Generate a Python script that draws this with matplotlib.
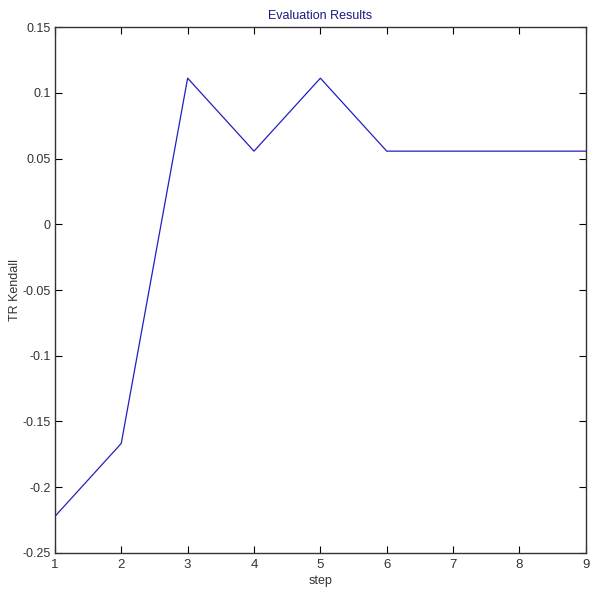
import matplotlib
matplotlib.use("Agg")
import matplotlib.pyplot as plt

steps = [1, 2, 3, 4, 5, 6, 7, 8, 9]
kendall = [-0.2222, -0.1667, 0.1111, 0.0556, 0.1111, 0.0556, 0.0556, 0.0556, 0.0556]
x_ticks = [1, 2, 3, 4, 5, 6, 7, 8, 9]
y_ticks = [-0.25, -0.2, -0.15, -0.1, -0.05, 0, 0.05, 0.1, 0.15]
y_labels = ["-0.25", "-0.2", "-0.15", "-0.1", "-0.05", "0", "0.05", "0.1", "0.15"]

font = ["Liberation Sans", "DejaVu Sans"]

fig = plt.figure(figsize=(5.9, 5.95), dpi=100)
ax = fig.add_axes([0.093, 0.0706, 0.9, 0.884])
ax.plot(steps, kendall, color="#2020c0", linewidth=0.9)
ax.set_xlim(1, 9)
ax.set_ylim(-0.25, 0.15)
ax.set_xticks(x_ticks)
ax.set_xticklabels([str(t) for t in x_ticks], family=font, fontsize=9.5, color="#333333")
ax.set_yticks(y_ticks)
ax.set_yticklabels(y_labels, family=font, fontsize=9, color="#333333")
ax.tick_params(direction="in", top=True, right=True, length=5, width=0.8, pad=3)
ax.tick_params(axis="x", pad=4)
for s in ax.spines.values():
    s.set_linewidth(1.0)
    s.set_color("#333333")

ax.set_title("Evaluation Results", family=font, fontsize=9, color="#1a1a80", pad=6)
ax.set_xlabel("step", family=font, fontsize=9, color="#333333", labelpad=3)
ax.set_ylabel("TR Kendall", family=font, fontsize=9, color="#333333")
ax.yaxis.set_label_coords(-0.064, 0.5)

fig.savefig("out.png", dpi=100)
